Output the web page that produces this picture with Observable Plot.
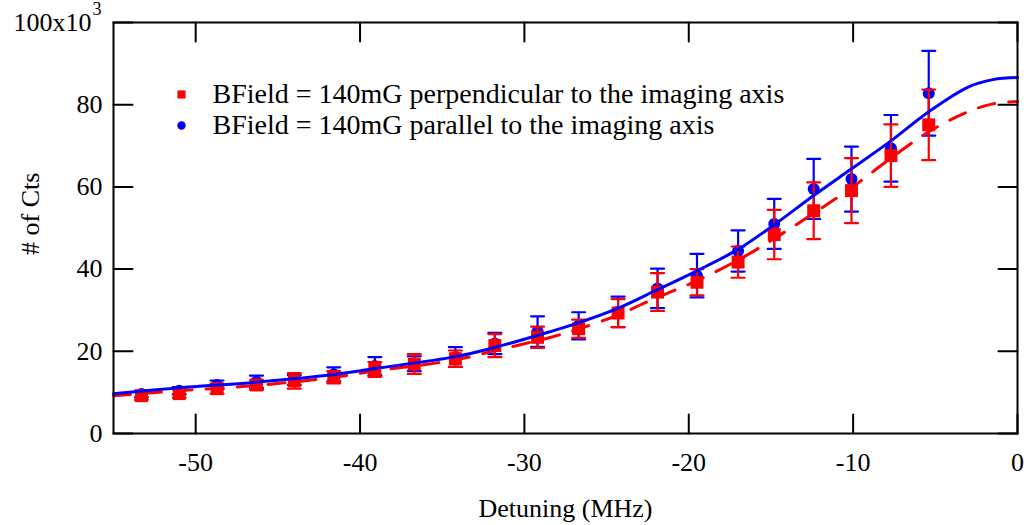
<!DOCTYPE html>
<html><head><meta charset="utf-8">
<script src="https://cdn.jsdelivr.net/npm/d3@7"></script>
<script src="https://cdn.jsdelivr.net/npm/@observablehq/plot@0.6"></script>
<style>html,body{margin:0;padding:0;background:#fff;} svg{display:block;}</style>
</head><body><div id="chart"></div>
<script>
// Measured points (Detuning in MHz, counts in thousands)
const detuning = [-53.3, -51.0, -48.7, -46.3, -44.0, -41.6, -39.1, -36.7, -34.2, -31.8, -29.2, -26.7, -24.3, -21.9, -19.5, -17.0, -14.8, -12.4, -10.1, -7.7, -5.4];
const perpCounts = [9.2, 9.7, 10.9, 11.8, 12.8, 13.7, 15.6, 16.9, 18.2, 21.4, 23.4, 25.5, 29.3, 34.4, 36.8, 41.7, 48.4, 54.2, 59.1, 67.6, 75.1];
const perpErr    = [1.0, 1.0, 1.2, 1.2, 1.9, 1.5, 1.8, 2.4, 2.0, 2.8, 2.6, 2.2, 3.4, 4.6, 3.2, 3.8, 6.0, 6.9, 7.9, 7.6, 8.6];
const paraCounts = [9.6, 10.4, 11.8, 12.6, 13.0, 14.4, 16.4, 17.0, 18.6, 21.9, 24.8, 26.2, 29.6, 35.3, 38.4, 44.4, 51.0, 59.5, 61.9, 69.4, 82.8];
const paraErr    = [0.8, 0.9, 1.1, 1.5, 1.2, 1.7, 2.2, 1.8, 2.4, 2.6, 3.7, 3.3, 3.7, 4.8, 5.3, 5.0, 6.1, 7.3, 7.9, 8.1, 10.3];

// Fitted curves
const fitX     = [-55, -51, -46.3, -41.7, -39.1, -34.2, -31.75, -28.5, -26.8, -24.4, -22, -19.6, -17, -14.8, -12.4, -10.1, -7.7, -5.4, -3, -1.5, 0];
const perpFit  = [9.2, 10.4, 11.7, 13.6, 15.2, 17.9, 20.2, 23.3, 25.3, 28.7, 33.0, 37.0, 42.2, 47.4, 53.6, 59.8, 67.0, 73.4, 78.3, 80.2, 80.8];
const paraFit  = [9.7, 11.1, 12.5, 14.3, 15.8, 18.7, 21.0, 24.7, 26.8, 30.3, 34.8, 39.4, 44.8, 50.8, 57.9, 64.4, 71.2, 78.3, 84.3, 86.1, 86.6];

const xTicks = [-50, -40, -30, -20, -10, 0];
const yTicks = [0, 20, 40, 60, 80, 100];
const yTickLabels = ["0", "20", "40", "60", "80", ""];
const yTopLabel = "100x10";
const yTopExponent = "3";
const legendLabels = ["BField = 140mG perpendicular to the imaging axis", "BField = 140mG parallel to the imaging axis"];
const xLabel = "Detuning (MHz)";
const yLabel = "# of Cts";

const perp = detuning.map((x, i) => ({x, y: perpCounts[i], e: perpErr[i]}));
const para = detuning.map((x, i) => ({x, y: paraCounts[i], e: paraErr[i]}));
const perpCurve = fitX.map((x, i) => ({x, y: perpFit[i]}));
const paraCurve = fitX.map((x, i) => ({x, y: paraFit[i]}));

const RED = "#ff0000", BLUE = "#0000ff";
const FS = 26, LFS = 28;
const tickShape = {draw(ctx, l) { ctx.moveTo(0, 0); ctx.lineTo(0, -l); }};
const capShape = {draw(ctx, l) { ctx.moveTo(-l / 2, 0); ctx.lineTo(l / 2, 0); }};

function errorMarks(data, color) {
  return [
    Plot.ruleX(data, {x: "x", y1: d => d.y - d.e, y2: d => d.y + d.e, stroke: color, strokeWidth: 2.2}),
    Plot.vector(data, {x: "x", y: d => d.y + d.e, length: 13, anchor: "start", shape: capShape, stroke: color, strokeWidth: 2.2}),
    Plot.vector(data, {x: "x", y: d => d.y - d.e, length: 13, anchor: "start", shape: capShape, stroke: color, strokeWidth: 2.2})
  ];
}

const topTick = yTicks[yTicks.length - 1];

const chart = Plot.plot({
  width: 1028,
  height: 525,
  marginLeft: 113,
  marginRight: 11,
  marginTop: 22,
  marginBottom: 92,
  style: {fontFamily: "'Liberation Serif', 'Times New Roman', serif", fontSize: FS + "px", color: "black", background: "white"},
  x: {domain: [-55, 0], axis: null},
  y: {domain: [0, 100], axis: null},
  marks: [
    ...errorMarks(para, BLUE),
    Plot.dot(para, {x: "x", y: "y", r: 6, fill: BLUE}),
    ...errorMarks(perp, RED),
    Plot.dot(perp, {x: "x", y: "y", symbol: "square", r: 7.3, fill: RED}),
    Plot.line(perpCurve, {x: "x", y: "y", curve: "catmull-rom", stroke: RED, strokeWidth: 3, strokeDasharray: "17,14"}),
    Plot.line(paraCurve, {x: "x", y: "y", curve: "catmull-rom", stroke: BLUE, strokeWidth: 3}),
    // inward ticks on all four sides
    Plot.vector(xTicks, {x: d => d, frameAnchor: "bottom", length: 19, rotate: 0, anchor: "start", shape: tickShape, stroke: "black", strokeWidth: 2}),
    Plot.vector(xTicks, {x: d => d, frameAnchor: "top", length: 19, rotate: 180, anchor: "start", shape: tickShape, stroke: "black", strokeWidth: 2}),
    Plot.vector(yTicks, {y: d => d, frameAnchor: "left", length: 19, rotate: 90, anchor: "start", shape: tickShape, stroke: "black", strokeWidth: 2}),
    Plot.vector(yTicks, {y: d => d, frameAnchor: "right", length: 19, rotate: -90, anchor: "start", shape: tickShape, stroke: "black", strokeWidth: 2}),
    Plot.frame({stroke: "black", strokeWidth: 2}),
    Plot.axisX({ticks: xTicks, tickSize: 0, tickPadding: 19, tickFormat: d => String(d), label: null, fontSize: FS}),
    Plot.axisY({ticks: yTicks, tickSize: 0, tickPadding: 11, tickFormat: d => yTickLabels[yTicks.indexOf(d)], label: null, fontSize: FS}),
    Plot.text([topTick], {y: d => d, text: () => yTopLabel, frameAnchor: "left", dx: -22, textAnchor: "end", lineAnchor: "middle", fontSize: FS}),
    Plot.text([topTick], {y: d => d, text: () => yTopExponent, frameAnchor: "left", dx: -12, dy: -13, textAnchor: "end", lineAnchor: "middle", fontSize: 18}),
    Plot.text([xLabel], {text: d => d, frameAnchor: "bottom", dy: 75, lineAnchor: "middle", fontSize: FS}),
    Plot.text([yLabel], {text: d => d, frameAnchor: "left", dx: -83, dy: 27, rotate: -90, lineAnchor: "middle", fontSize: FS}),
    // legend
    Plot.dot([legendLabels[0]], {frameAnchor: "top-left", dx: 68, dy: 72, symbol: "square", r: 4.6, fill: RED}),
    Plot.dot([legendLabels[1]], {frameAnchor: "top-left", dx: 68, dy: 103, r: 4.2, fill: BLUE}),
    Plot.text([legendLabels[0]], {text: d => d, frameAnchor: "top-left", dx: 99, dy: 72, textAnchor: "start", lineAnchor: "middle", fontSize: LFS}),
    Plot.text([legendLabels[1]], {text: d => d, frameAnchor: "top-left", dx: 99, dy: 103, textAnchor: "start", lineAnchor: "middle", fontSize: LFS})
  ]
});
document.getElementById("chart").appendChild(chart);
</script>
</body></html>
